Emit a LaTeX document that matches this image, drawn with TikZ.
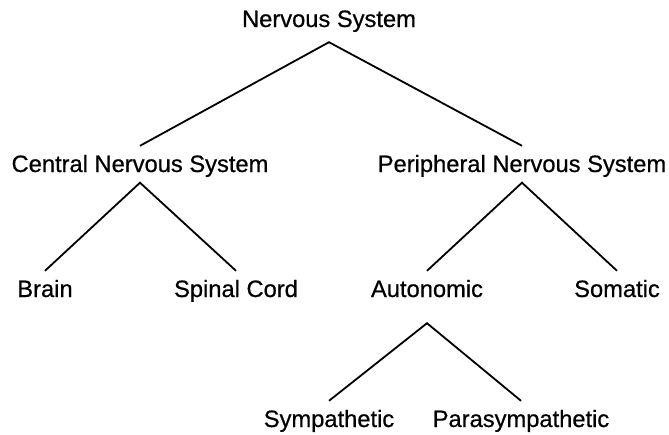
\documentclass[tikz,border=0pt]{standalone}
\usepackage{fontspec}
\setmainfont{Liberation Sans}[FakeBold=0.6]

\tikzset{
    term/.style={anchor=base, inner xsep=0pt, inner ysep=9pt,
        text height=17pt, text depth=1.5pt,
        font=\fontsize{23.7}{28}\selectfont},
    branch/.style={line width=1.8pt, line join=miter}
}

\begin{document}
\begin{tikzpicture}[x=1pt, y=-1pt]
        \useasboundingbox (0, 0) rectangle (669, 434);

        % levels of the tree, by baseline
        \node[term] (ns) at (329, 27) {Nervous System};

        \node[term] (cns) at (140, 172) {Central Nervous System};
        \node[term] (pns) at (522, 172) {Peripheral Nervous System};

        \node[term] (brain) at (45, 297) {Brain};
        \node[term] (spinal) at (236, 297) {Spinal Cord};
        \node[term] (auto) at (427, 297) {Autonomic};
        \node[term] (soma) at (617, 297) {Somatic};

        \node[term] (symp) at (329, 427) {Sympathetic};
        \node[term] (para) at (521, 427) {Parasympathetic};

        % branches
        \draw[branch] (cns.north) -- ([yshift=-4.5pt]ns.south) -- (pns.north);
        \draw[branch] (brain.north) -- (cns.south) -- (spinal.north);
        \draw[branch] (auto.north) -- (pns.south) -- (soma.north);
        \draw[branch] (symp.north) -- ([yshift=-15.5pt]auto.south) -- (para.north);
    \end{tikzpicture}
\end{document}
